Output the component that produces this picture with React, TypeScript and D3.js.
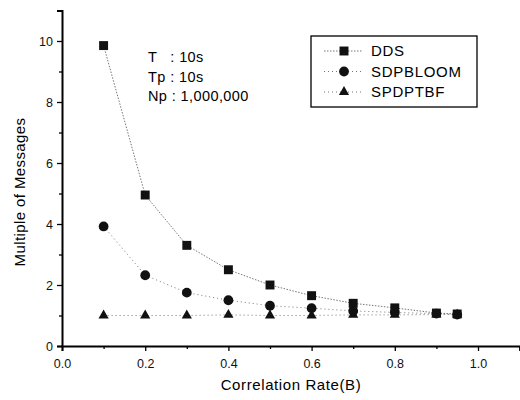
import React, { useRef, useEffect } from 'react';
import * as d3 from 'd3';

const xs = [0.1, 0.2, 0.3, 0.4, 0.5, 0.6, 0.7, 0.8, 0.9, 0.95];
const dds = [9.85, 4.95, 3.3, 2.5, 2.0, 1.65, 1.4, 1.25, 1.08, 1.05];
const sdpbloom = [3.92, 2.32, 1.75, 1.5, 1.32, 1.24, 1.15, 1.1, 1.06, 1.03];
const spdptbf = [1.0, 1.0, 1.0, 1.02, 1.0, 1.0, 1.02, 1.02, 1.03, 1.03];
const seriesNames = ['DDS', 'SDPBLOOM', 'SPDPTBF'];
const notes = ['T   : 10s', 'Tp : 10s', 'Np : 1,000,000'];

const App = () => {
  const svgRef = useRef<SVGSVGElement>(null);

  useEffect(() => {
    const width = 520;
    const height = 400;
    const svg = d3.select(svgRef.current);
    svg.selectAll('*').remove();
    svg.attr('width', width).attr('height', height).style('background', '#fff');

    const font = 'Arial, "Liberation Sans", sans-serif';
    const x = d3.scaleLinear().domain([0, 1.1]).range([62, 519.6]);
    const y = d3.scaleLinear().domain([0, 11]).range([346, 10.5]);

    // axes
    const xAxis = svg.append('g').attr('transform', `translate(0,${y(0)})`)
      .call(d3.axisBottom(x).tickValues([0, 0.2, 0.4, 0.6, 0.8, 1.0]).tickFormat(d3.format('.1f')).tickSize(5).tickPadding(8));
    svg.append('g').attr('transform', `translate(0,${y(0)})`)
      .call(d3.axisBottom(x).tickValues([0.1, 0.3, 0.5, 0.7, 0.9, 1.1]).tickFormat(() => '').tickSize(3))
      .select('.domain').remove();
    const yAxis = svg.append('g').attr('transform', `translate(${x(0)},0)`)
      .call(d3.axisLeft(y).tickValues([0, 2, 4, 6, 8, 10]).tickFormat(d3.format('d')).tickSize(5).tickPadding(4));
    svg.append('g').attr('transform', `translate(${x(0)},0)`)
      .call(d3.axisLeft(y).tickValues([1, 3, 5, 7, 9, 11]).tickFormat(() => '').tickSize(3))
      .select('.domain').remove();

    [xAxis, yAxis].forEach(a => {
      a.select('.domain').attr('stroke', '#000').attr('stroke-width', 2);
      a.selectAll('text').style('font-family', font).style('font-size', '12.5px').attr('fill', '#111');
    });
    svg.selectAll('.tick line').attr('stroke', '#000').attr('stroke-width', 1.3);

    // axis titles
    svg.append('text').attr('x', 291).attr('y', 390).attr('text-anchor', 'middle')
      .style('font-family', font).style('font-size', '15px').style('letter-spacing', '0.6px')
      .text('Correlation Rate(B)');
    svg.append('text').attr('transform', `translate(25,${y(5.05)}) rotate(-90)`).attr('text-anchor', 'middle')
      .style('font-family', font).style('font-size', '15px').style('letter-spacing', '0.4px')
      .text('Multiple of Messages');

    const series = [
      { name: seriesNames[0], values: dds, symbol: d3.symbolSquare, size: 80, dash: '1.5,1.5' },
      { name: seriesNames[1], values: sdpbloom, symbol: d3.symbolCircle, size: 75, dash: '1,3' },
      { name: seriesNames[2], values: spdptbf, symbol: d3.symbolTriangle, size: 45, dash: '1,3' },
    ];

    const line = d3.line<number>().x((_, i) => x(xs[i])).y(d => y(d));

    series.forEach(s => {
      svg.append('path').datum(s.values).attr('d', line)
        .attr('fill', 'none').attr('stroke', '#666').attr('stroke-width', 0.9)
        .attr('stroke-dasharray', s.dash);
    });
    series.slice().reverse().forEach(s => {
      svg.append('g').selectAll('path').data(s.values).enter().append('path')
        .attr('transform', (d, i) => `translate(${x(xs[i])},${y(d)})`)
        .attr('d', d3.symbol().type(s.symbol).size(s.size)())
        .attr('fill', '#111');
    });

    // annotation
    notes.forEach((t, i) => {
      svg.append('text').attr('x', 148).attr('y', 62 + i * 19.5)
        .style('font-family', font).style('font-size', '14.5px').style('white-space', 'pre')
        .style('letter-spacing', '0.4px')
        .attr('xml:space', 'preserve').text(t);
    });

    // legend
    const lg = svg.append('g');
    lg.append('rect').attr('x', 311).attr('y', 36).attr('width', 166).attr('height', 71)
      .attr('fill', '#fff').attr('stroke', '#000').attr('stroke-width', 1.3);
    series.forEach((s, i) => {
      const ly = 51 + i * 20.5;
      lg.append('line').attr('x1', 324).attr('x2', 363).attr('y1', ly).attr('y2', ly)
        .attr('stroke', '#666').attr('stroke-width', 0.9).attr('stroke-dasharray', s.dash);
      lg.append('path').attr('transform', `translate(344,${ly})`)
        .attr('d', d3.symbol().type(s.symbol).size(s.size)()).attr('fill', '#111');
      lg.append('text').attr('x', 371).attr('y', ly + 5)
        .style('font-family', font).style('font-size', '15px').style('letter-spacing', '0.7px')
        .text(s.name);
    });
  }, []);

  return <svg ref={svgRef} style={{ position: 'absolute', left: 0, top: 0 }}></svg>;
};

export default App;
